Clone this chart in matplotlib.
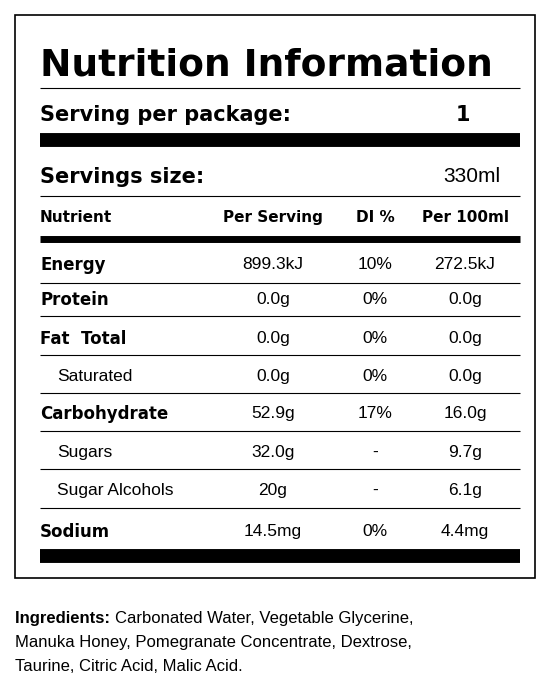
import matplotlib
matplotlib.use("Agg")
import matplotlib.pyplot as plt
from matplotlib.patches import Rectangle

title = "Nutrition Information"
serving_pkg = "1"
serving_size = "330ml"
headers = ["Nutrient", "Per Serving", "DI %", "Per 100ml"]
nutrients = ["Energy", "Protein", "Fat  Total", "Saturated", "Carbohydrate", "Sugars", "Sugar Alcohols", "Sodium"]
per_serving = ["899.3kJ", "0.0g", "0.0g", "0.0g", "52.9g", "32.0g", "20g", "14.5mg"]
di_pct = ["10%", "0%", "0%", "0%", "17%", "-", "-", "0%"]
per_100ml = ["272.5kJ", "0.0g", "0.0g", "0.0g", "16.0g", "9.7g", "6.1g", "4.4mg"]
is_sub = [False, False, False, True, False, True, True, False]
ingredients = ["Carbonated Water, Vegetable Glycerine,",
               "Manuka Honey, Pomegranate Concentrate, Dextrose,",
               "Taurine, Citric Acid, Malic Acid."]

F = "Liberation Sans"
B = "DejaVu Sans"
VA = "center_baseline"
fig = plt.figure(figsize=(5.51, 6.87), dpi=100)
ax = fig.add_axes([0, 0, 1, 1])
ax.set_xlim(0, 551); ax.set_ylim(687, 0); ax.axis("off")

ax.add_patch(Rectangle((15, 15), 520, 563, fill=False, lw=1.2, ec="black"))
ax.text(40, 62, title, fontsize=27, fontweight="bold", family=B, va=VA)
def hline(y, lw):
    ax.plot([40, 520], [y, y], color="black", lw=lw, solid_capstyle="butt")
hline(88, 0.8)
ax.text(40, 113, "Serving per package:", fontsize=15, fontweight="bold", family=B, va=VA)
ax.text(463, 113, serving_pkg, fontsize=15, fontweight="bold", family=B, va=VA, ha="center")
hline(140, 10)
ax.text(40, 175, "Servings size:", fontsize=15, fontweight="bold", family=B, va=VA)
ax.text(500, 175, serving_size, fontsize=15, family=F, va=VA, ha="right")
hline(196, 0.8)
cols = [273, 375, 465]
ax.text(40, 216, headers[0], fontsize=11, fontweight="bold", family=B, va=VA)
for c, h in zip(cols, headers[1:]):
    ax.text(c, 216, h, fontsize=11, fontweight="bold", family=B, va=VA, ha="center")
hline(239, 5)
ys = [263, 298, 337, 375, 412, 451, 489, 530]
lines = [283, 316, 355, 393, 431, 469, 508]
for i, y in enumerate(ys):
    if is_sub[i]:
        ax.text(57, y, nutrients[i], fontsize=12.5, family=F, va=VA)
    else:
        ax.text(40, y, nutrients[i], fontsize=12, fontweight="bold", family=B, va=VA)
    for c, v in zip(cols, [per_serving[i], di_pct[i], per_100ml[i]]):
        ax.text(c, y, v, fontsize=12.5, family=F, va=VA, ha="center")
for y in lines:
    hline(y, 0.8)
hline(556, 10)

t = ax.text(15, 617, "Ingredients: ", fontsize=12, fontweight="bold", family=F, va=VA)
fig.canvas.draw()
bb = t.get_window_extent()
ax.text(bb.x1, 617, ingredients[0], fontsize=12, family=F, va=VA,
        transform=matplotlib.transforms.blended_transform_factory(matplotlib.transforms.IdentityTransform(), ax.transData))
ax.text(15, 641, ingredients[1], fontsize=12, family=F, va=VA)
ax.text(15, 665, ingredients[2], fontsize=12, family=F, va=VA)
fig.savefig("out.png", dpi=100)
